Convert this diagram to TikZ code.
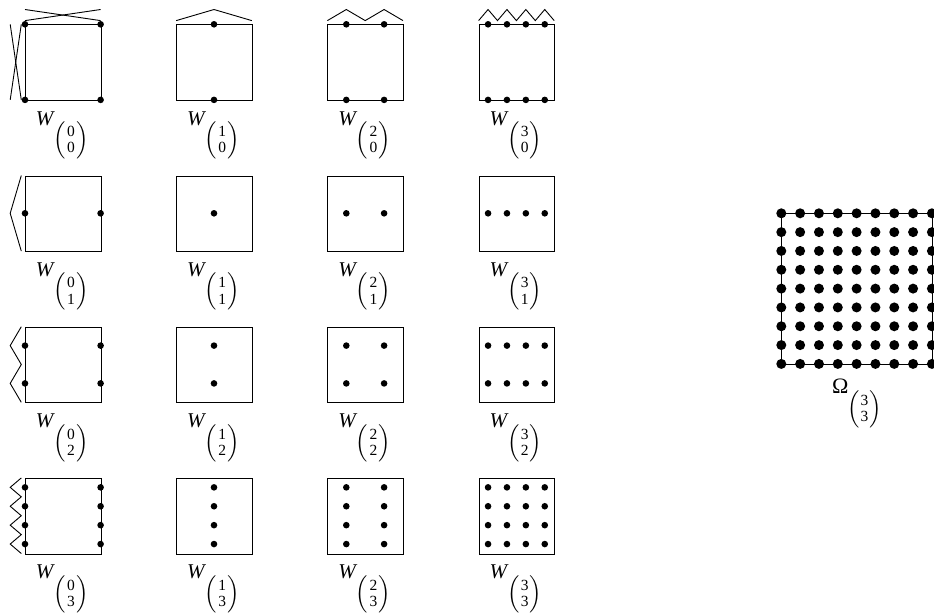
\documentclass[tikz,border=0pt]{standalone}
\usepackage{exscale}
\usepackage{amsmath}
\usepackage{fontspec}
\setmainfont{Liberation Serif}
\usetikzlibrary{calc}
\newcommand\dg[1]{\mbox{\fontsize{15.5}{16}\selectfont #1}}
\newcommand\binlab[2]{\kern-1.5pt\raisebox{-20.5pt}{$\Bigl(\genfrac{}{}{0pt}{1}{\dg{#1}}{\dg{#2}}\Bigr)$}}
\begin{document}
\begin{tikzpicture}[x=1pt,y=-1pt,line width=0.9pt,
  wbox/.style={draw,minimum width=75.6pt,minimum height=75.6pt,inner sep=0pt,anchor=north west},
  obox/.style={draw,minimum width=150.6pt,minimum height=150.6pt,inner sep=0pt,anchor=north west},
  wlabel/.style={anchor=base,inner sep=0pt,font=\fontsize{21}{24}\selectfont}]
\useasboundingbox (0,0) rectangle (934,614);
\foreach \c in {0,...,3}{
  \foreach \r in {0,...,3}{
    \pgfmathsetmacro\L{25+151.2*\c}
    \pgfmathsetmacro\T{24.3+151.2*\r}
    \node[wbox] (b\c\r) at (\L,\T) {};
    \node[wlabel] (l\c\r) at ($(b\c\r.south)+(-1,24.5)$) {\textit{W}\binlab{\c}{\r}};
    \ifcase\c \def\xl{0,1}\or\def\xl{0.5}\or\def\xl{0.25,0.75}\or\def\xl{0.125,0.375,0.625,0.875}\fi
    \ifcase\r \def\yl{0,1}\or\def\yl{0.5}\or\def\yl{0.25,0.75}\or\def\yl{0.125,0.375,0.625,0.875}\fi
    \foreach \u in \xl {\foreach \v in \yl {\fill ({\L+75.6*\u},{\T+75.6*\v}) circle (3.3pt);}}
    \ifnum\r=0
      \ifnum\c=0
        \draw ({\L},{\T-3.7}) -- ({\L+75.6},{\T-14.8});
        \draw ({\L},{\T-14.8}) -- ({\L+75.6},{\T-3.7});
        \draw ({\L-3.7},{\T}) -- ({\L-14.8},{\T+75.6});
        \draw ({\L-14.8},{\T}) -- ({\L-3.7},{\T+75.6});
      \else
        \pgfmathtruncatemacro\n{2^(\c-1)}
        \draw ({\L},{\T-3.7}) \foreach \i in {1,...,\n}{ -- ({\L+75.6*(\i-0.5)/\n},{\T-14.8}) -- ({\L+75.6*\i/\n},{\T-3.7}) };
      \fi
    \else
      \ifnum\c=0
        \pgfmathtruncatemacro\n{2^(\r-1)}
        \draw ({\L-3.7},{\T}) \foreach \i in {1,...,\n}{ -- ({\L-14.8},{\T+75.6*(\i-0.5)/\n}) -- ({\L-3.7},{\T+75.6*\i/\n}) };
      \fi
    \fi
  }
}
\node[obox] (om) at (781.3,213.3) {};
\foreach \i in {0,...,8}{\foreach \j in {0,...,8}{\fill ({781.3+150.6*\i/8},{213.3+150.6*\j/8}) circle (5pt);}}
\node[wlabel,font=\fontsize{22}{26}\selectfont] (ol) at ($(om.south)+(0,29)$) {Ω\binlab{3}{3}};
\end{tikzpicture}
\end{document}
